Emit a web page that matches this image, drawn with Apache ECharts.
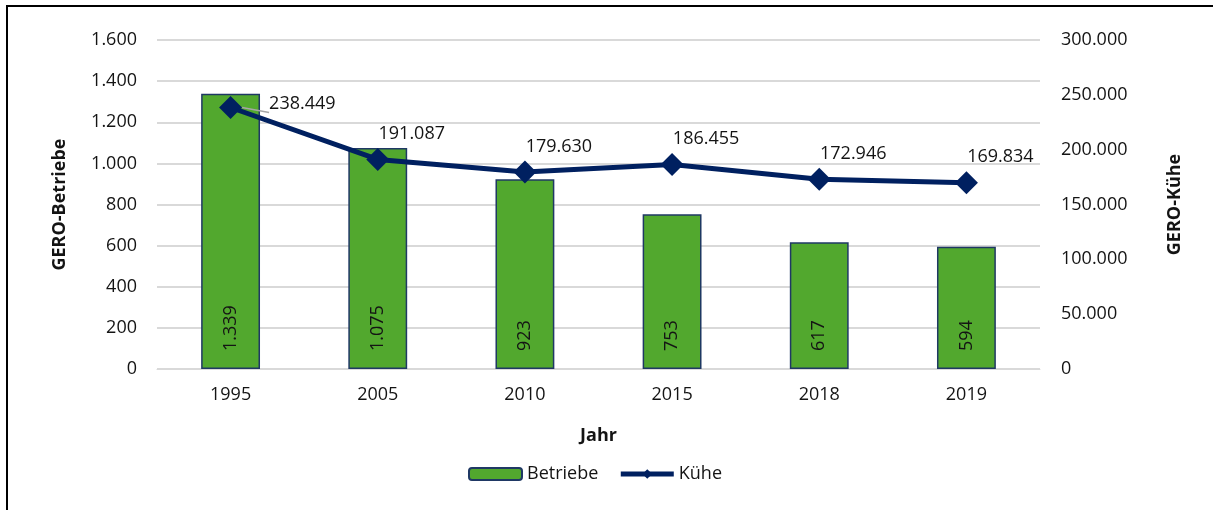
<!DOCTYPE html>
<html>
<head>
<meta charset="utf-8">
<script src="https://cdn.jsdelivr.net/npm/echarts@6/dist/echarts.min.js"></script>
<style>
	html, body { margin: 0; padding: 0; background: #fff; }
	#frame { position: absolute; left: 6px; top: 5px; width: 1300px; height: 600px; border-left: 2px solid #000; border-top: 2px solid #000; }
	#chart { position: absolute; left: 0; top: 0; width: 1213px; height: 510px; }
</style>
</head>
<body>
<div id="frame"></div>
<div id="chart"></div>
<script>
var jahre = ["1995", "2005", "2010", "2015", "2018", "2019"];
var betriebe = [1339, 1075, 923, 753, 617, 594];
var kuehe = [238449, 191087, 179630, 186455, 172946, 169834];

function fmt(v) { // Tausenderpunkt
	return String(v).replace(/\B(?=(\d{3})+(?!\d))/g, ".");
}

var FONT = "Open Sans";
var FS = 18;
var txt = "#141414";

var kueheData = [];
for (var i = 0; i < kuehe.length; i++) {
	var item = { value: kuehe[i] };
	if (i == 0) { // erster Wert rechts mit Linie
		item.label = { position: "right", offset: [22, -4] };
		item.labelLine = { show: true, lineStyle: { color: "#a6a6a6", width: 1.5 } };
	}
	kueheData.push(item);
}

var option = {
	animation: false,
	textStyle: { fontFamily: FONT },
	grid: { left: 157, right: 173, top: 40, bottom: 141 },
	legend: {
		bottom: 22,
		left: 463,
		itemWidth: 53,
		itemHeight: 12,
		itemGap: 20,
		textStyle: { fontFamily: FONT, fontSize: FS, color: txt },
		data: ["Betriebe", { name: "Kühe", lineStyle: { width: 5 } }]
	},
	xAxis: {
		type: "category",
		data: jahre,
		name: "Jahr",
		nameLocation: "middle",
		nameGap: 58,
		nameTextStyle: { fontWeight: "bold", fontSize: FS, color: txt, fontFamily: FONT },
		axisTick: { show: false },
		axisLine: { lineStyle: { color: "#d9d9d9", width: 1 } },
		axisLabel: { fontSize: FS, color: txt, margin: 17 }
	},
	yAxis: [{
		type: "value",
		min: 0,
		max: 1600,
		interval: 200,
		name: "GERO-Betriebe",
		nameLocation: "middle",
		nameGap: 88,
		nameTextStyle: { fontWeight: "bold", fontSize: FS, color: txt, fontFamily: FONT },
		axisLabel: { fontSize: FS, color: txt, margin: 20, formatter: fmt },
		splitLine: { lineStyle: { color: "#d9d9d9", width: 2 } }
	}, {
		type: "value",
		min: 0,
		max: 300000,
		interval: 50000,
		name: "GERO-Kühe",
		nameLocation: "middle",
		nameGap: 126,
		nameRotate: 90,
		nameTextStyle: { fontWeight: "bold", fontSize: FS, color: txt, fontFamily: FONT },
		axisLabel: { fontSize: FS, color: txt, margin: 21, formatter: fmt },
		splitLine: { show: false }
	}],
	series: [{
		name: "Betriebe",
		type: "bar",
		data: betriebe,
		barWidth: "40%",
		itemStyle: { color: "#52a82e", borderColor: "#1f3864", borderWidth: 1.5 },
		label: {
			show: true,
			position: "insideBottom",
			rotate: 90,
			align: "left",
			verticalAlign: "middle",
			distance: 18,
			fontSize: FS,
			color: txt,
			formatter: function(p) { return fmt(p.value); }
		}
	}, {
		name: "Kühe",
		type: "line",
		yAxisIndex: 1,
		data: kueheData,
		symbol: "diamond",
		symbolSize: 23,
		lineStyle: { color: "#002060", width: 5 },
		itemStyle: { color: "#002060" },
		label: {
			show: true,
			position: "top",
			offset: [34, 0],
			fontSize: FS,
			color: txt,
			formatter: function(p) { return fmt(p.value); }
		}
	}]
};

var chart = echarts.init(document.getElementById("chart"));
chart.setOption(option);
</script>
</body>
</html>
